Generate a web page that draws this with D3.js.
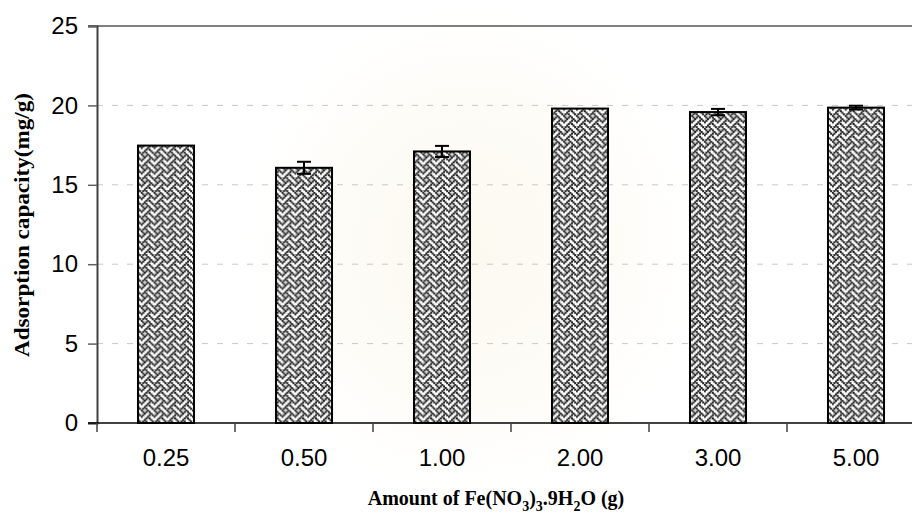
<!DOCTYPE html>
<html>
<head>
<meta charset="utf-8">
<script src="https://cdn.jsdelivr.net/npm/d3@7"></script>
<style>
  html, body { margin: 0; padding: 0; background: #fff; }
  svg { display: block; }
</style>
</head>
<body>
<script>
// Adsorption capacity for each amount of iron nitrate
const categories = ["0.25", "0.50", "1.00", "2.00", "3.00", "5.00"];
const capacity = [17.47, 16.07, 17.1, 19.8, 19.58, 19.86];
const errors = [0, 0.38, 0.35, 0, 0.2, 0.12];
const yTicks = [0, 5, 10, 15, 20, 25];

const W = 912, H = 518;
const margin = { left: 97, top: 26, plotRight: 925, bottom: 423 };

const svg = d3.select("body").append("svg")
  .attr("width", W).attr("height", H);

const defs = svg.append("defs");

// faint warm glow in the background
const glow = defs.append("radialGradient").attr("id", "glow");
glow.append("stop").attr("offset", "0%").attr("stop-color", "#f7f1dc").attr("stop-opacity", 0.45);
glow.append("stop").attr("offset", "60%").attr("stop-color", "#f9f4e3").attr("stop-opacity", 0.28);
glow.append("stop").attr("offset", "100%").attr("stop-color", "#ffffff").attr("stop-opacity", 0);
svg.append("ellipse")
  .attr("cx", 470).attr("cy", 250).attr("rx", 250).attr("ry", 270)
  .attr("fill", "url(#glow)");

// weave hatch fill (8x8 bitmap scaled up)
const weaveRows = [0x88, 0x54, 0x22, 0x45, 0x88, 0x14, 0x22, 0x51];
const cell = 1.6, dot = 2.1;
const tile = 8 * cell;
const pat = defs.append("pattern")
  .attr("id", "weave")
  .attr("patternUnits", "userSpaceOnUse")
  .attr("width", tile).attr("height", tile);
pat.append("rect").attr("width", tile).attr("height", tile).attr("fill", "#ffffff");
weaveRows.forEach((row, r) => {
  for (let c = 0; c < 8; c++) {
    if (row & (0x80 >> c)) {
      const px = c * cell - (dot - cell) / 2, py = r * cell - (dot - cell) / 2;
      // draw wrapped copies so dots at the tile edge stay continuous
      [[0, 0], [tile, 0], [0, tile], [tile, tile]].forEach(([ox, oy]) => {
        pat.append("rect")
          .attr("x", px - ox).attr("y", py - oy)
          .attr("width", dot).attr("height", dot)
          .attr("fill", "#222");
      });
    }
  }
});

const x = d3.scaleBand()
  .domain(categories)
  .range([margin.left, margin.plotRight])
  .paddingInner(0.594)
  .paddingOuter(0.297);

const y = d3.scaleLinear().domain([0, 25]).range([margin.bottom, margin.top]);

// dashed gridlines
svg.append("g")
  .selectAll("line")
  .data(yTicks.filter(d => d > 0 && d < 25))
  .join("line")
  .attr("x1", margin.left).attr("x2", W)
  .attr("y1", d => y(d)).attr("y2", d => y(d))
  .attr("stroke", "#c8c8c8").attr("stroke-width", 1)
  .attr("stroke-dasharray", "6,9");

// top border
svg.append("line")
  .attr("x1", 88).attr("x2", W)
  .attr("y1", y(25)).attr("y2", y(25))
  .attr("stroke", "#808080").attr("stroke-width", 2);

// bars
svg.append("g")
  .selectAll("rect")
  .data(categories)
  .join("rect")
  .attr("x", d => x(d))
  .attr("y", (d, i) => y(capacity[i]))
  .attr("width", x.bandwidth())
  .attr("height", (d, i) => y(0) - y(capacity[i]))
  .attr("fill", "url(#weave)")
  .attr("stroke", "#000").attr("stroke-width", 2);

// error bars
const eb = svg.append("g").attr("stroke", "#000").attr("stroke-width", 2);
categories.forEach((c, i) => {
  if (!errors[i]) return;
  const cx = x(c) + x.bandwidth() / 2;
  const hi = y(capacity[i] + errors[i]), lo = y(capacity[i] - errors[i]);
  eb.append("line").attr("x1", cx).attr("x2", cx).attr("y1", hi).attr("y2", lo);
  eb.append("line").attr("x1", cx - 7).attr("x2", cx + 7).attr("y1", hi).attr("y2", hi);
  eb.append("line").attr("x1", cx - 7).attr("x2", cx + 7).attr("y1", lo).attr("y2", lo);
});

// y axis
const yAxis = svg.append("g")
  .attr("transform", `translate(${margin.left},0)`)
  .call(d3.axisLeft(y).tickValues(yTicks).tickSize(9).tickPadding(10).tickFormat(d3.format("d")));
yAxis.select(".domain").attr("stroke", "#404040").attr("stroke-width", 2);
yAxis.selectAll(".tick line").attr("stroke", "#606060").attr("stroke-width", 1.5);
yAxis.selectAll(".tick text")
  .attr("font-family", "Liberation Sans, Arial, sans-serif")
  .attr("font-size", 24).attr("fill", "#000");

// x axis
const xAxis = svg.append("g")
  .attr("transform", `translate(0,${margin.bottom})`)
  .call(d3.axisBottom(x).tickSize(0).tickPadding(26));
xAxis.select(".domain").remove();
xAxis.selectAll(".tick text")
  .attr("font-family", "Liberation Sans, Arial, sans-serif")
  .attr("font-size", 24).attr("fill", "#000");
svg.append("line")
  .attr("x1", 88).attr("x2", W)
  .attr("y1", margin.bottom).attr("y2", margin.bottom)
  .attr("stroke", "#000").attr("stroke-width", 1.5);
// category boundary ticks
const step = x.step();
svg.append("g")
  .selectAll("line")
  .data(d3.range(categories.length))
  .join("line")
  .attr("x1", i => margin.left + i * step).attr("x2", i => margin.left + i * step)
  .attr("y1", margin.bottom).attr("y2", margin.bottom + 9)
  .attr("stroke", "#404040").attr("stroke-width", 1.5);

// axis titles
svg.append("text")
  .attr("transform", `translate(29,225) rotate(-90)`)
  .attr("text-anchor", "middle")
  .attr("font-family", "Liberation Serif, Times New Roman, serif")
  .attr("font-weight", "bold").attr("font-size", 20)
  .attr("textLength", 264).attr("lengthAdjust", "spacingAndGlyphs")
  .text("Adsorption capacity(mg/g)");

const xt = svg.append("text")
  .attr("x", 496).attr("y", 505)
  .attr("text-anchor", "middle")
  .attr("font-family", "Liberation Serif, Times New Roman, serif")
  .attr("font-weight", "bold").attr("font-size", 20);
xt.append("tspan").text("Amount of Fe(NO");
xt.append("tspan").attr("dy", 6).attr("font-size", 14).text("3");
xt.append("tspan").attr("dy", -6).text(")");
xt.append("tspan").attr("dy", 6).attr("font-size", 14).text("3");
xt.append("tspan").attr("dy", -6).text(".9H");
xt.append("tspan").attr("dy", 6).attr("font-size", 14).text("2");
xt.append("tspan").attr("dy", -6).text("O (g)");
</script>
</body>
</html>
